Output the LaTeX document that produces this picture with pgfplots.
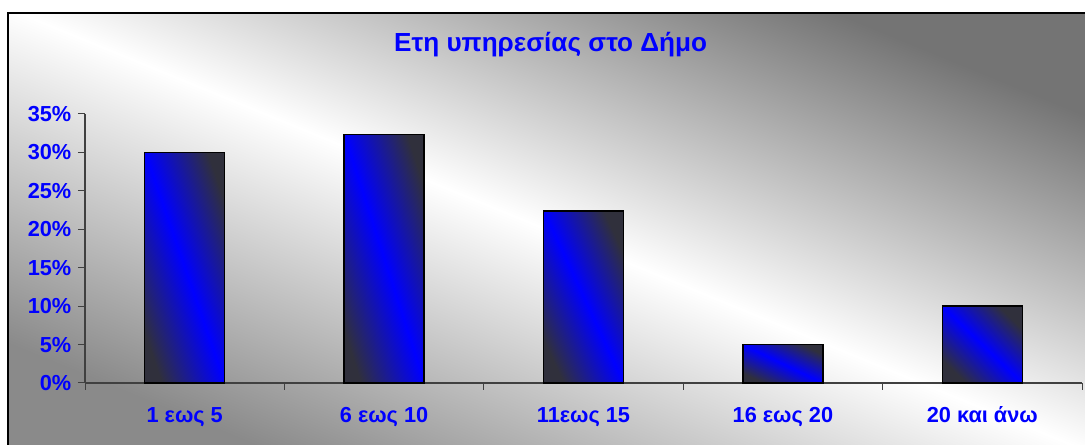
\documentclass[border=0pt]{standalone}
\usepackage{fontspec}
\setmainfont{Liberation Sans}
\usepackage{pgfplots}
\pgfplotsset{compat=1.18}
\definecolor{bardark}{HTML}{30303C}
\definecolor{bgdark}{HTML}{747474}
\definecolor{bglow}{HTML}{8A8A8A}
\definecolor{axisgray}{HTML}{404040}

\pgfplotsset{
  bar/.style={ybar, bar width=60pt, bar shift=0pt, draw=black, line width=1.1pt,
    top color=bardark, bottom color=bardark, middle color=blue, shading angle=#1},
}

\begin{document}
\begin{tikzpicture}[x=1pt,y=1pt]
% page and chart area background
\fill[white] (0,0) rectangle (813.75,333.75);
\shade[top color=bgdark, bottom color=bglow, middle color=white, shading angle=-22.3]
  (6,-2) rectangle (818,324);
\draw[black, line width=1.5pt] (6,-10) -- (6,324) -- (825,324);

\begin{axis}[
  at={(63.75pt,46.5pt)}, anchor=south west,
  scale only axis, width=747.75pt, height=201.75pt,
  xmin=-0.5, xmax=4.5, ymin=0, ymax=35,
  axis x line*=bottom, axis y line*=left,
  axis line style={draw=axisgray, line width=1pt, -},
  xtick={-0.5,0.5,1.5,2.5,3.5,4.5}, xticklabels={},
  extra x ticks={0,1,2,3,4},
  extra x tick labels={1 εως 5, 6 εως 10, 11εως 15, 16 εως 20, 20 και άνω},
  extra x tick style={major tick length=0pt},
  xticklabel style={anchor=base, yshift=-30pt},
  ytick={0,5,10,15,20,25,30,35},
  yticklabels={0\%,5\%,10\%,15\%,20\%,25\%,30\%,35\%},
  yticklabel style={xshift=-1.5pt},
  tick align=outside, major tick length=5.25pt,
  tick style={draw=axisgray, line width=0.75pt},
  ticklabel style={font=\fontsize{16.3}{19}\selectfont\bfseries, text=blue},
  clip=false,
]
% one plot per bar, so that each bar gets its own diagonal shading
\addplot[bar=-70.9] coordinates {(0,30)};
\addplot[bar=-72.1] coordinates {(1,32.3)};
\addplot[bar=-65.1] coordinates {(2,22.4)};
\addplot[bar=-25.7] coordinates {(3,5)};
\addplot[bar=-43.9] coordinates {(4,10)};
\end{axis}

\node[font=\fontsize{19.6}{23}\selectfont\bfseries, text=blue] at (413,300)
  {Ετη υπηρεσίας στο Δήμο};

\pgfresetboundingbox
\path[use as bounding box] (0,0) rectangle (813.75,333.75);
\end{tikzpicture}
\end{document}
